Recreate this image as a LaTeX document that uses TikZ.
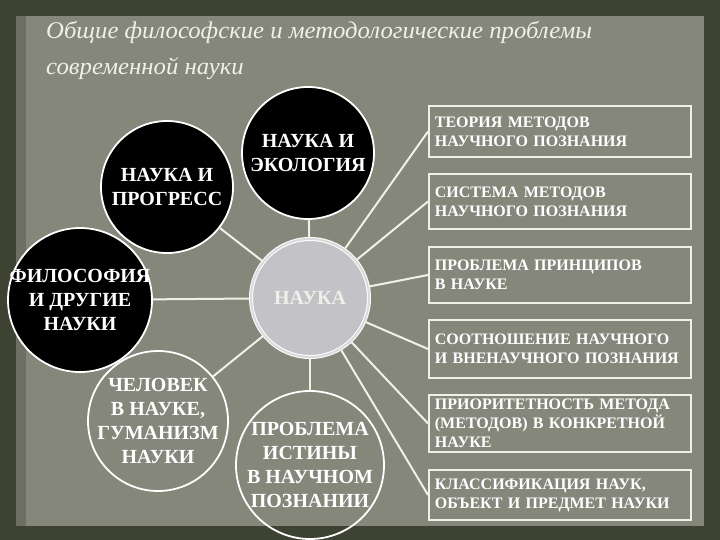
\documentclass[tikz,border=0pt]{standalone}
\usepackage{fontspec}
\setmainfont{Liberation Serif}
\usepackage{xcolor}
\usetikzlibrary{positioning, shapes, calc}
\definecolor{frameolive}{rgb}{0.24, 0.26, 0.20}
\definecolor{papergray}{rgb}{0.52, 0.53, 0.48}
\definecolor{naukagray}{rgb}{0.76, 0.76, 0.78}
\definecolor{chalk}{rgb}{0.94, 0.94, 0.91}

\tikzset{
  topic/.style={circle, draw=white, line width=1.8pt, fill=black, text=white, align=center, inner sep=-20pt,
    font=\bfseries\fontsize{20}{24}\selectfont},
  opentopic/.style={topic, fill=none},
  probbox/.style={rectangle, draw=chalk, line width=1.8pt, text=white, align=left, anchor=west,
    text width=250pt, inner xsep=6pt, inner ysep=2pt, font=\bfseries\fontsize{16}{19}\selectfont},
  link/.style={chalk, line width=2pt}
}

\begin{document}
\begin{tikzpicture}[x=1pt, y=-1pt]
\useasboundingbox (0,0) rectangle (720,540);
% background
\fill[frameolive] (0,0) rectangle (720,540);
\fill[papergray] (16,16) rectangle (704,526);
\fill[frameolive!35!papergray] (16,16) rectangle (26,526);

% title
\node[anchor=base west, text=chalk, font=\itshape\fontsize{24}{30}\selectfont, inner sep=0pt] (title1) at (46,39)
  {\scalebox{1.03}[1]{Общие философские и методологические проблемы}};
\node[anchor=base west, text=chalk, font=\itshape\fontsize{24}{30}\selectfont, inner sep=0pt] (title2) at (46,75)
  {\scalebox{1.03}[1]{современной науки}};

% circles
\node[topic, minimum size=132pt] (prog) at (167,187) {НАУКА И\\ПРОГРЕСС};
\node[topic, minimum size=132pt] (ecol) at (308,153) {НАУКА И\\ЭКОЛОГИЯ};
\node[topic, minimum size=144pt] (phil) at (80,300) {ФИЛОСОФИЯ\\И ДРУГИЕ\\НАУКИ};
\node[opentopic, minimum size=140pt] (human) at (158,421) {ЧЕЛОВЕК\\В НАУКЕ,\\ГУМАНИЗМ\\НАУКИ};
\node[opentopic, minimum size=148pt] (truth) at (310,465) {ПРОБЛЕМА\\ИСТИНЫ\\В НАУЧНОМ\\ПОЗНАНИИ};
\node[topic, minimum size=118pt, fill=naukagray, draw=white, line width=1pt, double=naukagray!60!white,
  double distance=2pt, text=chalk] (nauka) at (310,298) {НАУКА};

% problem boxes
\node[probbox, minimum height=51pt] (b1) at (428,131.5) {ТЕОРИЯ МЕТОДОВ\\НАУЧНОГО ПОЗНАНИЯ};
\node[probbox, minimum height=55pt] (b2) at (428,201.5) {СИСТЕМА МЕТОДОВ\\НАУЧНОГО ПОЗНАНИЯ};
\node[probbox, minimum height=56pt] (b3) at (428,275) {ПРОБЛЕМА ПРИНЦИПОВ\\В НАУКЕ};
\node[probbox, minimum height=58pt] (b4) at (428,349) {СООТНОШЕНИЕ НАУЧНОГО\\И ВНЕНАУЧНОГО ПОЗНАНИЯ};
\node[probbox, minimum height=57pt] (b5) at (428,423.5) {ПРИОРИТЕТНОСТЬ МЕТОДА\\(МЕТОДОВ) В КОНКРЕТНОЙ\\НАУКЕ};
\node[probbox, minimum height=50pt] (b6) at (428,495) {КЛАССИФИКАЦИЯ НАУК,\\ОБЪЕКТ И ПРЕДМЕТ НАУКИ};

% links
\foreach \t in {prog, ecol, phil, human, truth}
  \draw[link] (nauka) -- (\t);
\foreach \b in {b1, b2, b3, b4, b5, b6}
  \draw[link] (nauka) -- (\b.west);
\end{tikzpicture}
\end{document}
